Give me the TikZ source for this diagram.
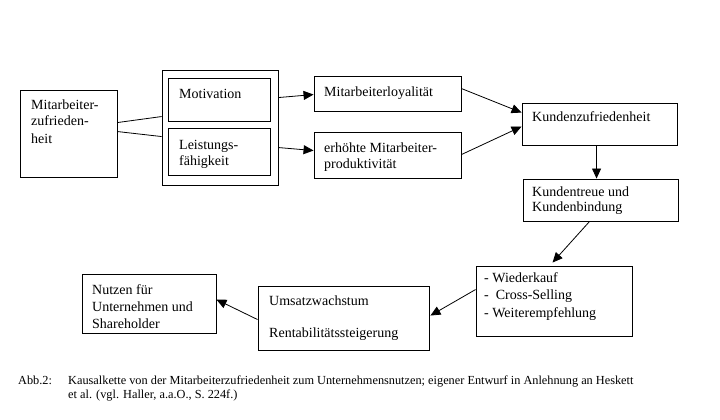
\documentclass[tikz,border=0pt]{standalone}
\usepackage{fontspec}
\setmainfont{Liberation Serif}
\usetikzlibrary{arrows.meta,calc}
\newcommand\boxlines[2][17]{{\fontsize{14}{#1}\selectfont\begin{tabular}[t]{@{}l@{}}#2\end{tabular}}}
\tikzset{
  box/.style={draw, line width=0.9pt, inner sep=0pt, anchor=center},
  txt/.style={inner sep=0pt, anchor=base west},
  link/.style={line width=0.8pt},
  arr/.style={line width=0.8pt, -{Triangle[length=10pt,width=9pt]}},
  captxt/.style={inner sep=0pt, anchor=base west, font=\fontsize{12.3}{14}\selectfont},
}
\begin{document}
\begin{tikzpicture}[x=1pt,y=-1pt]
\useasboundingbox (0,0) rectangle (720,420);
% boxes
\node[box, minimum width=97pt,  minimum height=87pt]  (A)  at (68.5,133.5) {};
\node[box, minimum width=116pt, minimum height=115pt] (O)  at (220,127.5) {};
\node[box, minimum width=102pt, minimum height=43pt]  (M)  at (219,99.5) {};
\node[box, minimum width=102pt, minimum height=47pt]  (LF) at (219,151.5) {};
\node[box, minimum width=147pt, minimum height=35pt]  (L)  at (387.5,93.5) {};
\node[box, minimum width=147pt, minimum height=46pt]  (P)  at (387.5,155) {};
\node[box, minimum width=155pt, minimum height=42pt]  (KZ) at (599.5,124) {};
\node[box, minimum width=155pt, minimum height=42pt]  (KT) at (600.5,200) {};
\node[box, minimum width=156pt, minimum height=70pt]  (W)  at (554,301) {};
\node[box, minimum width=171pt, minimum height=64pt]  (U)  at (343.5,318) {};
\node[box, minimum width=134pt, minimum height=59pt]  (N)  at (149,303.5) {};
% texts
\node[txt] (At)  at (31,109)  {\boxlines{Mitarbeiter-\\zufrieden-\\heit}};
\node[txt] (Mt)  at (179,98)  {\boxlines{Motivation}};
\node[txt] (LFt) at (179,149) {\boxlines[16]{Leistungs-\\fähigkeit}};
\node[txt] (Lt)  at (324,96)  {\boxlines{Mitarbeiterloyalität}};
\node[txt] (Pt)  at (324,152) {\boxlines[16]{erhöhte Mitarbeiter-\\produktivität}};
\node[txt] (KZt) at (532,121) {\boxlines{Kundenzufriedenheit}};
\node[txt] (KTt) at (532,196) {\boxlines[15.5]{Kundentreue und\\Kundenbindung}};
\node[txt] (Wt)  at (484,282) {\boxlines[17.5]{- Wiederkauf\\-\hspace{7pt}Cross-Selling\\- Weiterempfehlung}};
\node[txt] (Ut)  at (269,305) {\boxlines[16]{Umsatzwachstum\\ \\Rentabilitätssteigerung}};
\node[txt] (Nt)  at (92,294)  {\boxlines{Nutzen für\\Unternehmen und\\Shareholder}};
% caption
\node[captxt] (c1) at (18,384) {Abb.2:};
\node[captxt] (c2) at (68,384) {Kausalkette von der Mitarbeiterzufriedenheit zum Unternehmensnutzen; eigener Entwurf in Anlehnung an Heskett};
\node[captxt] (c3) at (68,398) {et al. (vgl. Haller, a.a.O., S. 224f.)};
% connectors
\draw[link] ($(A.north east)+(0,33)$) -- ($(O.north west)+(0,47)$);
\draw[link] ($(A.north east)+(0,42)$) -- ($(O.north west)+(0,67)$);
\draw[arr] ($(O.north east)+(0,28)$) -- ($(L.north west)+(0,19)$);
\draw[arr] ($(O.north east)+(0,78)$) -- ($(P.north west)+(0,19)$);
\draw[arr] ($(L.north east)+(0,13)$) -- ($(KZ.north west)+(0,10)$);
\draw[arr] ($(P.north east)+(0,23)$) -- ($(KZ.north west)+(0,24)$);
\draw[arr] ($(KZ.south west)+(75,0)$) -- ($(KT.north west)+(74,0)$);
\coordinate (wtip) at ($(W.north west)+(77,-3)$);
\draw[arr] ($(KT.south west)+(67,0)$) -- (wtip);
\draw[arr] ($(W.north west)+(0,24)$) -- ($(U.north east)+(1,30)$);
\draw[arr] ($(U.north west)+(0,34)$) -- ($(N.north east)+(0,26)$);
\end{tikzpicture}
\end{document}
